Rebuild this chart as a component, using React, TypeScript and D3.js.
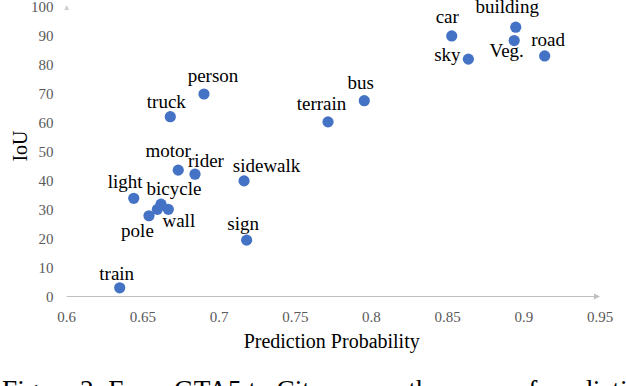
import React from "react";
import { scaleLinear } from "d3";

// Cityscapes classes (GTA5 -> Cityscapes), one point each
const classes = [
  "road", "sidewalk", "building", "wall", "fence", "pole", "light", "sign", "Veg.",
  "terrain", "sky", "person", "rider", "car", "truck", "bus", "train", "motor", "bicycle",
];
const probability = [
  0.9137, 0.7164, 0.8947, 0.6667, 0.6595, 0.654, 0.644, 0.7181, 0.8937,
  0.7715, 0.8636, 0.6901, 0.6842, 0.8527, 0.668, 0.7953, 0.6348, 0.6732, 0.6619,
];
const iou = [
  82.8, 39.8, 92.7, 30.0, 30.0, 27.8, 33.8, 19.4, 88.1,
  60.1, 81.7, 69.7, 42.1, 89.7, 61.9, 67.4, 3.0, 43.5, 31.8,
];
// fence point has no label in the figure
const shownLabels = classes.map((c) => (c === "fence" ? "" : c));

const xTicks = [0.6, 0.65, 0.7, 0.75, 0.8, 0.85, 0.9, 0.95];
const yTicks = [0, 10, 20, 30, 40, 50, 60, 70, 80, 90, 100];

// where each label sits relative to its dot (px), hand placed like the original
const labelOffset: Record<string, [number, number]> = {
  person: [9, -12.5],
  truck: [-4, -9],
  motor: [-10, -13],
  rider: [11, -7.5],
  sidewalk: [22.5, -8.5],
  light: [-8.5, -10],
  bicycle: [13, -9],
  wall: [10.5, 17.5],
  pole: [-11.5, 21.5],
  sign: [-3.5, -10.5],
  train: [-3, -7.5],
  car: [-4.5, -12.5],
  building: [-8.5, -14],
  "Veg.": [-7.5, 16],
  sky: [-21, 1.5],
  road: [3.5, -9.5],
  bus: [-3.5, -11.5],
  terrain: [-6.5, -11.5],
};

const W = 626;
const H = 386;
const serif = "'Liberation Serif', 'Times New Roman', serif";

export default function App() {
  const x = scaleLinear().domain([0.6, 0.95]).range([66.7, 600]);
  const y = scaleLinear().domain([0, 100]).range([296.5, 6]);
  const axisY = y(0);

  return (
    <div style={{ position: "absolute", left: 0, top: 0 }}>
      <svg width={W} height={H} style={{ display: "block", overflow: "hidden", background: "#fff" }}>
        {/* x axis line with arrow */}
        <line x1={x(0.6)} x2={x(0.95) - 4} y1={axisY} y2={axisY} stroke="#bfbfbf" strokeWidth={1} />
        <path
          d={`M${x(0.95)},${axisY} l-6,-3 l0,6 z`}
          fill="#bfbfbf"
        />
        {/* y axis: only the arrow head is visible */}
        <path d={`M${x(0.6)},${y(100) - 1} l-2.5,5 l5,0 z`} fill="#d0d0d0" />

        {/* tick labels */}
        {xTicks.map((t) => (
          <text
            key={"x" + t}
            x={x(t)}
            y={321.5}
            textAnchor="middle"
            fontFamily={serif}
            fontSize={15}
            fill="#595959"
          >
            {String(t)}
          </text>
        ))}
        {yTicks.map((t) => (
          <text
            key={"y" + t}
            x={53.5}
            y={y(t) + 5.5}
            textAnchor="end"
            fontFamily={serif}
            fontSize={15}
            fill="#595959"
          >
            {t}
          </text>
        ))}

        {/* axis titles */}
        <text x={331.7} y={348} textAnchor="middle" fontFamily={serif} fontSize={20} fill="#000">
          Prediction Probability
        </text>
        <text
          transform={`translate(27,146) rotate(-90)`}
          textAnchor="middle"
          fontFamily={serif}
          fontSize={20}
          fill="#000"
        >
          IoU
        </text>

        {/* points */}
        {classes.map((c, i) => (
          <circle key={"p" + c} cx={x(probability[i])} cy={y(iou[i])} r={5.6} fill="#4472c4" />
        ))}

        {/* data labels */}
        {shownLabels.map((lab, i) => {
          if (!lab) return null;
          const [dx, dy] = labelOffset[lab] || [0, -10];
          return (
            <text
              key={"l" + lab}
              x={x(probability[i]) + dx}
              y={y(iou[i]) + dy}
              textAnchor="middle"
              fontFamily={serif}
              fontSize={19}
              fill="#000"
            >
              {lab}
            </text>
          );
        })}

        {/* figure caption, cut off by the bottom edge */}
        <text x={2} y={398.5} fontFamily={serif} fontSize={27.3} fill="#000">
          Figure 2: From GTA5 to Cityscapes, the mean of prediction probability
        </text>
      </svg>
    </div>
  );
}
